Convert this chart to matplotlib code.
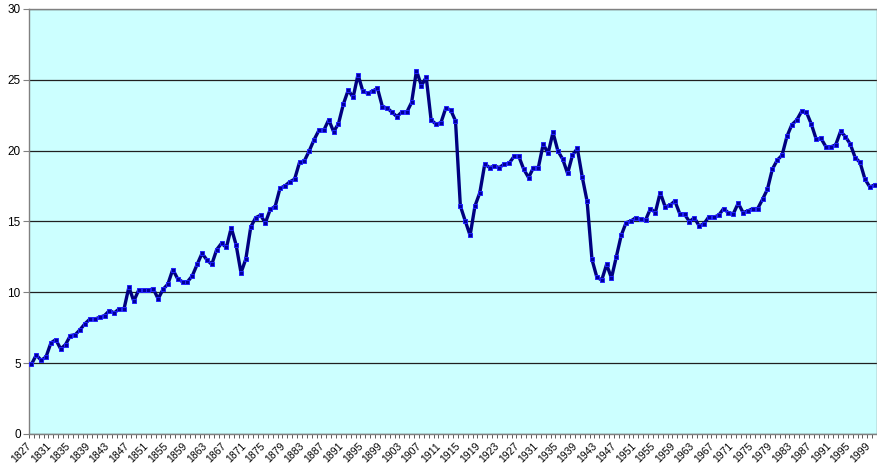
import matplotlib
matplotlib.use("Agg")
import matplotlib.pyplot as plt
import matplotlib.transforms as mtransforms
import numpy as np

plt.rcParams["font.family"] = ["Liberation Sans", "DejaVu Sans"]

# yearly values, 1827-2000
first_year = 1827
values = [
    4.9, 5.57, 5.19, 5.43, 6.42, 6.65, 6.0, 6.3, 6.94, 7.0,
    7.36, 7.78, 8.1, 8.1, 8.23, 8.35, 8.7, 8.54, 8.82, 8.82,
    10.36, 9.37, 10.14, 10.14, 10.14, 10.24, 9.53, 10.2, 10.57, 11.6,
    10.95, 10.73, 10.73, 11.15, 11.96, 12.74, 12.28, 11.96, 13.0, 13.45,
    13.16, 14.55, 13.33, 11.37, 12.36, 14.6, 15.26, 15.43, 14.9, 15.85,
    16.04, 17.34, 17.5, 17.79, 17.98, 19.16, 19.27, 19.98, 20.77, 21.44,
    21.44, 22.17, 21.33, 21.9, 23.28, 24.27, 23.75, 25.36, 24.18, 24.04,
    24.2, 24.39, 23.1, 23.0, 22.7, 22.39, 22.72, 22.7, 23.4, 25.64,
    24.58, 25.17, 22.15, 21.87, 21.95, 22.99, 22.87, 22.1, 16.09, 15.03,
    14.01, 16.09, 17.03, 19.04, 18.8, 18.9, 18.8, 19.04, 19.1, 19.58,
    19.58, 18.68, 18.09, 18.8, 18.8, 20.45, 19.8, 21.28, 19.98, 19.39,
    18.38, 19.67, 20.15, 18.14, 16.42, 12.31, 11.06, 10.85, 11.96, 11.0,
    12.5, 14.01, 14.91, 15.03, 15.26, 15.15, 15.1, 15.9, 15.62, 17.03,
    16.04, 16.13, 16.44, 15.55, 15.5, 14.98, 15.26, 14.67, 14.84, 15.33,
    15.3, 15.43, 15.9, 15.6, 15.54, 16.28, 15.62, 15.74, 15.9, 15.9,
    16.56, 17.27, 18.68, 19.32, 19.67, 21.0, 21.82, 22.15, 22.76, 22.7,
    21.87, 20.8, 20.85, 20.26, 20.26, 20.4, 21.35, 20.98, 20.45, 19.5,
    19.16, 17.98, 17.43, 17.57,
]
years = [first_year + i for i in range(len(values))]
label_years = years[::4]
y_ticks = [0, 5, 10, 15, 20, 25, 30]

fig = plt.figure(figsize=(8.78, 4.68), dpi=100)
ax = fig.add_axes([0.033, 0.073, 0.966, 0.908])
ax.set_facecolor("#CCFFFF")

x = np.arange(len(values))
ax.plot(x, values, color="#000080", lw=2.4, marker="s", markersize=2.8,
        markerfacecolor="#000099", markeredgecolor="#2222FF", mew=0.7,
        zorder=3)

ax.set_xlim(-0.5, len(values) - 0.5)
ax.set_ylim(0, 30)
ax.set_yticks(y_ticks)
ax.yaxis.grid(True, color="#202020", lw=0.9)
ax.set_axisbelow(True)
ax.tick_params(axis="y", labelsize=8.5, length=4, width=0.8,
               color="#808080", pad=2)

# category labels at centres, tick marks at category boundaries
idx = [years.index(y) for y in label_years]
ax.set_xticks(idx)
ax.set_xticklabels([str(y) for y in label_years], rotation=45, ha="right",
                   rotation_mode="anchor", fontsize=7.5)
ax.tick_params(axis="x", which="major", length=0, pad=5)
shift = mtransforms.ScaledTranslation(-5 / 100, 0, fig.dpi_scale_trans)
for lab in ax.get_xticklabels():
    lab.set_transform(lab.get_transform() + shift)
ax.set_xticks(np.arange(-0.5, len(values), 1), minor=True)
ax.tick_params(axis="x", which="minor", length=3, width=0.6, color="#404040")

for s in ax.spines.values():
    s.set_color("#808080")
    s.set_linewidth(1)

fig.savefig("out.png", dpi=100)
